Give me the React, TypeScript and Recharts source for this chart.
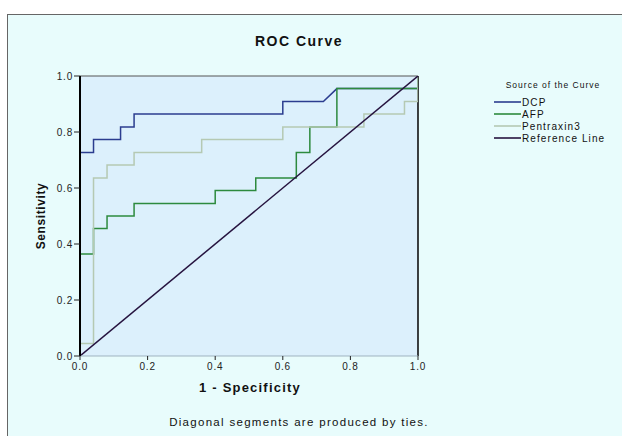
import React from "react";
import { LineChart, Line, XAxis, YAxis, CartesianGrid, ReferenceLine } from "recharts";

const FONT = '"Liberation Sans", Arial, sans-serif';

// corner points of each ROC step curve
const dcpFpr = [0, 0, 0.04, 0.04, 0.12, 0.12, 0.16, 0.16, 0.6, 0.6, 0.72, 0.76, 1, 1];
const dcpSens = [0, 0.727, 0.727, 0.773, 0.773, 0.818, 0.818, 0.864, 0.864, 0.909, 0.909, 0.955, 0.955, 1];

const afpFpr = [0, 0, 0.04, 0.04, 0.08, 0.08, 0.16, 0.16, 0.4, 0.4, 0.52, 0.52, 0.64, 0.64, 0.68, 0.68, 0.76, 0.76, 1, 1];
const afpSens = [0, 0.364, 0.364, 0.455, 0.455, 0.5, 0.5, 0.545, 0.545, 0.591, 0.591, 0.636, 0.636, 0.727, 0.727, 0.818, 0.818, 0.955, 0.955, 1];

const ptxFpr = [0, 0, 0.04, 0.04, 0.08, 0.08, 0.16, 0.16, 0.36, 0.36, 0.6, 0.6, 0.84, 0.84, 0.96, 0.96, 1, 1];
const ptxSens = [0, 0.045, 0.045, 0.636, 0.636, 0.682, 0.682, 0.727, 0.727, 0.773, 0.773, 0.818, 0.818, 0.864, 0.864, 0.909, 0.909, 1];

const refFpr = [0, 1];
const refSens = [0, 1];

const ticks = [0, 0.2, 0.4, 0.6, 0.8, 1];

const zip = (xs: number[], ys: number[]) => xs.map((x, i) => ({ x, y: ys[i] }));

const series = [
  { name: "DCP", color: "#2b3d8f", data: zip(dcpFpr, dcpSens) },
  { name: "AFP", color: "#2d8a3e", data: zip(afpFpr, afpSens) },
  { name: "Pentraxin3", color: "#b5c9b3", data: zip(ptxFpr, ptxSens) },
  { name: "Reference Line", color: "#26133f", data: zip(refFpr, refSens) },
];

const tickStyle = { fill: "#222", fontSize: 10, fontFamily: FONT, letterSpacing: 0.8 };

// legend drawn as html so it doesn't eat plot space
function LegendBox() {
  return (
    <div style={{ position: "absolute", left: 494, top: 80, fontFamily: FONT, color: "#111" }}>
      <div style={{ fontSize: 8.5, letterSpacing: 1, textAlign: "center", width: 118, marginBottom: 6 }}>
        Source of the Curve
      </div>
      {series.map((s) => (
        <div key={s.name} style={{ display: "flex", alignItems: "center", height: 12 }}>
          <svg width={27} height={4} style={{ marginRight: 1 }}>
            <line x1={0} y1={2} x2={27} y2={2} stroke={s.color} strokeWidth={1.6} />
          </svg>
          <span style={{ fontSize: 10, letterSpacing: 1.1, whiteSpace: "nowrap" }}>{s.name}</span>
        </div>
      ))}
    </div>
  );
}

export default function App() {
  return (
    <div style={{ position: "fixed", left: 0, top: 0, width: 622, height: 436, background: "#fff", overflow: "hidden" }}>
      <div
        style={{
          position: "absolute", left: 7, top: 14, width: 630, height: 440,
          border: "1px solid #666", background: "#e8fcfc",
        }}
      />
      <div style={{ position: "absolute", left: 0, width: 598, top: 33, textAlign: "center", fontFamily: FONT, fontWeight: 700, fontSize: 14, letterSpacing: 1.5, color: "#111" }}>
        ROC Curve
      </div>
      <div style={{ position: "absolute", left: 0, width: 500, top: 380, textAlign: "center", fontFamily: FONT, fontWeight: 700, fontSize: 13, letterSpacing: 1.2, color: "#111" }}>
        1 - Specificity
      </div>
      <div
        style={{
          position: "absolute", left: 42, top: 216, width: 120, marginLeft: -60, marginTop: -8, height: 16,
          transform: "rotate(-90deg)", textAlign: "center", fontFamily: FONT, fontWeight: 700, fontSize: 12, letterSpacing: 0.6, color: "#111",
        }}
      >
        Sensitivity
      </div>
      <div style={{ position: "absolute", left: 0, width: 598, top: 416, textAlign: "center", fontFamily: FONT, fontSize: 11.5, letterSpacing: 1.3, color: "#111" }}>
        Diagonal segments are produced by ties.
      </div>
      <div style={{ position: "absolute", left: 0, top: 0 }}>
        <LineChart width={622} height={436} margin={{ top: 76, right: 204, bottom: 50, left: 40 }}>
          <CartesianGrid fill="#dcf0fc" stroke="none" horizontal={false} vertical={false} />
          <XAxis
            dataKey="x"
            type="number"
            domain={[0, 1]}
            ticks={ticks}
            height={30}
            tickFormatter={(v: number) => v.toFixed(1)}
            tick={tickStyle}
            tickSize={4}
            tickMargin={3}
            axisLine={{ stroke: "#9fb3c0", strokeWidth: 1 }}
            tickLine={{ stroke: "#222" }}
            allowDataOverflow
          />
          <YAxis
            dataKey="y"
            type="number"
            domain={[0, 1]}
            ticks={ticks}
            width={40}
            tickFormatter={(v: number) => v.toFixed(1)}
            tick={tickStyle}
            tickSize={6}
            tickMargin={1}
            axisLine={{ stroke: "#000", strokeWidth: 2 }}
            tickLine={{ stroke: "#222" }}
            allowDataOverflow
          />
          <ReferenceLine y={1} stroke="#555" strokeWidth={1.2} />
          <ReferenceLine x={1} stroke="#111" strokeWidth={1.6} />
          {series.map((s) => (
            <Line
              key={s.name}
              data={s.data}
              dataKey="y"
              name={s.name}
              type="linear"
              stroke={s.color}
              strokeWidth={1.5}
              dot={false}
              activeDot={false}
              isAnimationActive={false}
            />
          ))}
        </LineChart>
      </div>
      <LegendBox />
    </div>
  );
}
